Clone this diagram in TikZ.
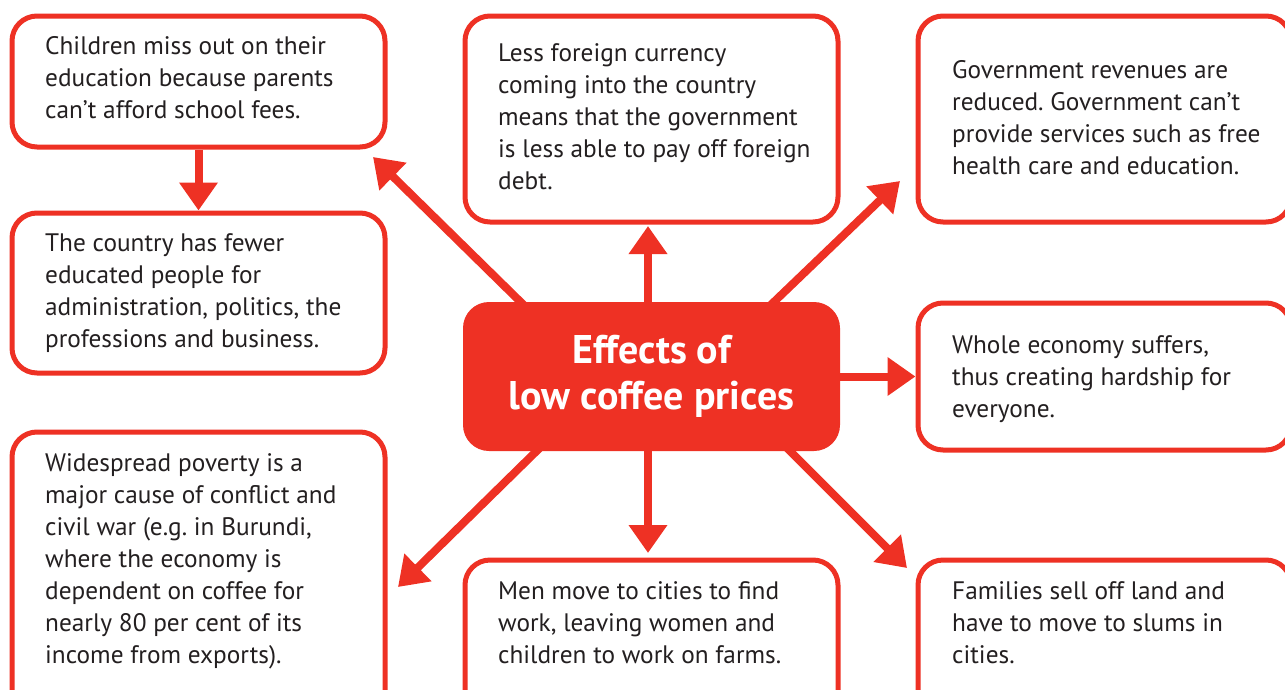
\documentclass[tikz,border=0pt]{standalone}
\usepackage{fontspec}
\setmainfont{PT Sans}
\usetikzlibrary{arrows.meta,backgrounds}
\definecolor{cred}{HTML}{EE3124}
\definecolor{ctext}{HTML}{231F20}
\frenchspacing
\tikzset{
  effect/.style={draw=cred, line width=5pt, rounded corners=25pt, fill=white, inner sep=0pt},
  cause/.style={fill=cred, rounded corners=26pt, inner sep=0pt, text=white, align=center,
    font=\bfseries\fontsize{40}{46}\selectfont},
  blurb/.style={anchor=north west, align=left, inner sep=0pt, text=ctext,
    font=\fontsize{25.3}{32}\selectfont},
  effarrow/.style={draw=cred, line width=8pt, -{Triangle[width=37pt,length=28pt]}},
}
\begin{document}
\begin{tikzpicture}[x=1pt,y=-1pt]
\useasboundingbox (0,0) rectangle (1285,689);

% centre
\node[cause, minimum width=377pt, minimum height=149pt] (main) at (651.5,376.5) {Effects of\\low coffee prices};

% left column
\node[effect, minimum width=373pt, minimum height=131pt] (fees) at (198.5,81.5) {};
\node[effect, minimum width=373pt, minimum height=160pt] (people) at (198.5,293) {};
\node[effect, minimum width=373pt, minimum height=290pt] (poverty) at (198.5,577) {};

% middle column
\node[effect, minimum width=373pt, minimum height=206pt] (debt) at (651.5,119) {};
\node[effect, minimum width=373pt, minimum height=160pt] (men) at (651.5,640) {};

% right column
\node[effect, minimum width=373pt, minimum height=206pt] (revenue) at (1104.5,119) {};
\node[effect, minimum width=373pt, minimum height=147pt] (economy) at (1104.5,376.5) {};
\node[effect, minimum width=373pt, minimum height=160pt] (families) at (1104.5,640) {};

% texts
\node[blurb] (feestxt) at (45,36.5) {Children miss out on their\\education because parents\\can’t afford school fees.};
\node[blurb] (peopletxt) at (45,233.5) {The country has fewer\\educated people for\\administration, politics, the\\professions and business.};
\node[blurb] (povertytxt) at (45,453.5) {Widespread poverty is a\\major cause of conflict and\\civil war (e.g. in Burundi,\\where the economy is\\dependent on coffee for\\nearly 80 per cent of its\\income from exports).};
\node[blurb] (debttxt) at (498,43.5) {Less foreign currency\\coming into the country\\means that the government\\is less able to pay off foreign\\debt.};
\node[blurb] (mentxt) at (498,581.5) {Men move to cities to find\\work, leaving women and\\children to work on farms.};
\node[blurb] (revenuetxt) at (952,60.5) {Government revenues are\\reduced. Government can’t\\provide services such as free\\health care and education.};
\node[blurb] (economytxt) at (952,335.5) {Whole economy suffers,\\thus creating hardship for\\everyone.};
\node[blurb] (familiestxt) at (952,581.5) {Families sell off land and\\have to move to slums in\\cities.};

% arrow tips
\coordinate (feestip) at (373,157);
\coordinate (debttip) at (648,226);
\coordinate (revtip) at (900,181);
\coordinate (povtip) at (398,587);
\coordinate (mentip) at (648,553);
\coordinate (famtip) at (907,568);

\begin{scope}[on background layer]
\draw[effarrow] (fees) -- (people);
\draw[effarrow] ([shift={(77pt,-19pt)}]main.north west) -- (feestip);
\draw[effarrow] ([xshift=-3.5pt]main.center) -- (debttip);
\draw[effarrow] ([shift={(-87pt,-20pt)}]main.north east) -- (revtip);
\draw[effarrow] (main) -- (economy);
\draw[effarrow] ([shift={(94pt,20pt)}]main.south west) -- (povtip);
\draw[effarrow] ([xshift=-3.5pt]main.center) -- (mentip);
\draw[effarrow] ([shift={(-70pt,20pt)}]main.south east) -- (famtip);
\end{scope}
\end{tikzpicture}
\end{document}
